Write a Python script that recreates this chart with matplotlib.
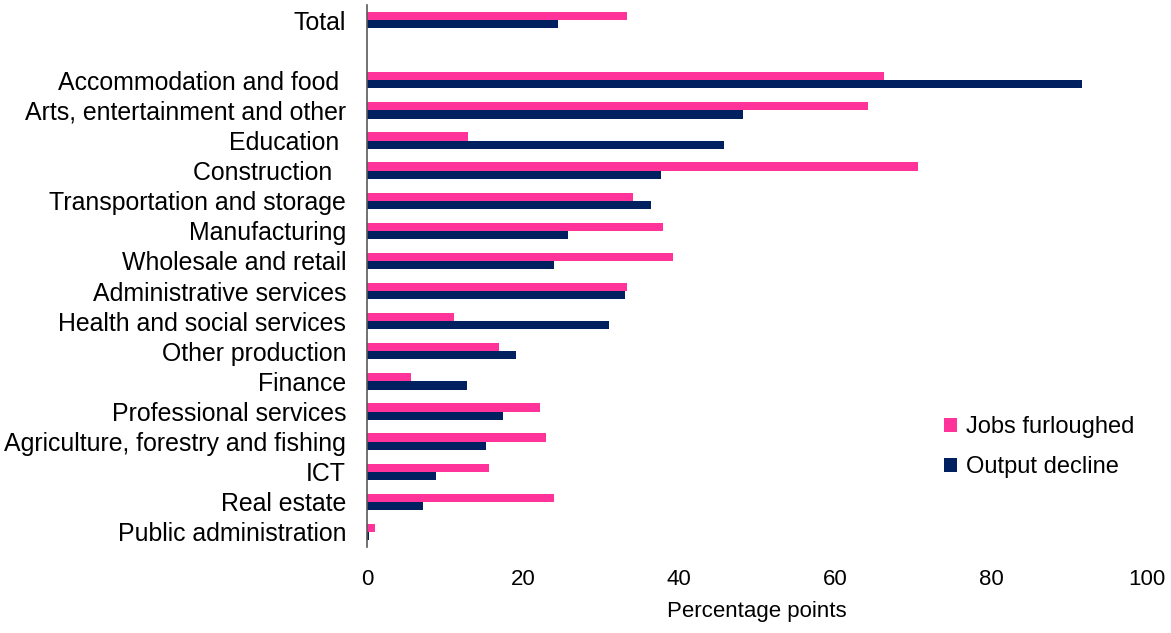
import matplotlib
matplotlib.use('Agg')
import matplotlib.pyplot as plt
import numpy as np

plt.rcParams['font.family'] = ['Liberation Sans', 'DejaVu Sans']

# sectors, top to bottom ('' leaves the blank gap under Total)
sectors = ['Total', '', 'Accommodation and food ', 'Arts, entertainment and other',
           'Education ', 'Construction  ', 'Transportation and storage', 'Manufacturing',
           'Wholesale and retail', 'Administrative services', 'Health and social services',
           'Other production', 'Finance', 'Professional services',
           'Agriculture, forestry and fishing', 'ICT', 'Real estate', 'Public administration']
jobs_furloughed = [33.3, np.nan, 66.3, 64.2, 12.9, 70.6, 34.1, 37.9, 39.2, 33.3,
                   11.2, 16.9, 5.6, 22.2, 22.9, 15.7, 24.0, 1.0]
output_decline = [24.5, np.nan, 91.7, 48.2, 45.8, 37.7, 36.4, 25.8, 24.0, 33.1,
                  31.0, 19.1, 12.8, 17.4, 15.2, 8.9, 7.2, 0.3]
xticks = [0, 20, 40, 60, 80, 100]

pink = '#FF3399'
navy = '#002060'

fig = plt.figure(figsize=(11.71, 6.33), dpi=100)
ax = fig.add_axes([367 / 1171, 1 - 547 / 633, 780 / 1171, 542 / 633])

y = np.arange(len(sectors))
h = 0.27
ax.barh(y - h / 2, jobs_furloughed, height=h, color=pink, label='Jobs furloughed')
ax.barh(y + h / 2, output_decline, height=h, color=navy, label='Output decline')

ax.set_ylim(len(sectors) - 0.5, -0.5)
ax.set_yticks(y)
ax.set_yticklabels(sectors, fontsize=17.9)
ax.tick_params(axis='y', length=0, pad=15)
ax.set_xlim(0, 100)
ax.set_xticks(xticks)
ax.set_xticklabels([str(t) for t in xticks], fontsize=16)
ax.tick_params(axis='x', length=0, pad=16)
ax.set_xlabel('Percentage points', fontsize=16, labelpad=8)

for s in ['top', 'right', 'bottom']:
    ax.spines[s].set_visible(False)
ax.spines['left'].set_color('#595959')
ax.spines['left'].set_linewidth(1.2)

ax.legend(loc='center left', bbox_to_anchor=(0.713, 0.184), frameon=False,
          fontsize=17, handlelength=0.55, handleheight=0.55, handletextpad=0.35,
          labelspacing=0.75)

fig.savefig('out.png', dpi=100)
